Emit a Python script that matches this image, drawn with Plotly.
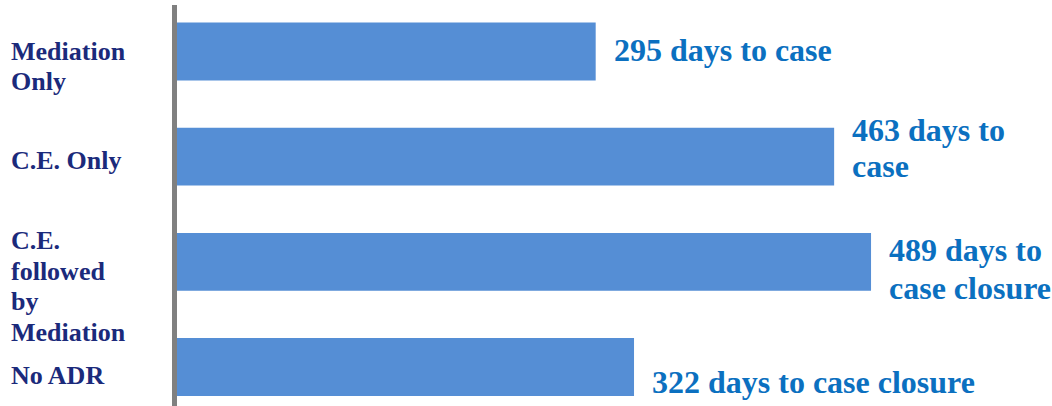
import plotly.graph_objects as go

# ---- data ----
categories = ["Mediation Only", "C.E. Only", "C.E. followed by Mediation", "No ADR"]
category_label_lines = [["Mediation", "Only"], ["C.E. Only"], ["C.E.", "followed", "by", "Mediation"], ["No ADR"]]
days_to_closure = [295, 463, 489, 322]
value_label_lines = [["295 days to case"], ["463 days to", "case"], ["489 days to", "case closure"], ["322 days to case closure"]]

# ---- style ----
BAR_COLOR = "#558ED5"
CAT_COLOR = "#1B2A7B"
VAL_COLOR = "#0B70C0"
FONT = "Times New Roman, Liberation Serif, serif"
# pixel offsets (below bar centre) of each text line, per category
cat_line_offsets = [[0.5, 30.5], [4], [-21.5, 9.5, 39.5, 70.5], [9]]
val_line_offsets = [[-1.5], [-27, 9], [-11.5, 26.5], [15]]

ypos = list(range(len(categories)))

fig = go.Figure(go.Bar(
    y=ypos, x=days_to_closure, orientation="h",
    marker=dict(color=BAR_COLOR, line=dict(width=0)),
    width=0.55, hoverinfo="skip",
))

annotations = []
for i, lines in enumerate(category_label_lines):
    for line, off in zip(lines, cat_line_offsets[i]):
        annotations.append(dict(
            x=0, xref="paper", y=ypos[i], yref="y", text="<b>" + line + "</b>",
            xanchor="left", yanchor="middle", xshift=-168, yshift=-off,
            showarrow=False, align="left",
            font=dict(family=FONT, size=26, color=CAT_COLOR),
        ))
for i, lines in enumerate(value_label_lines):
    for line, off in zip(lines, val_line_offsets[i]):
        annotations.append(dict(
            x=days_to_closure[i], xref="x", y=ypos[i], yref="y", text="<b>" + line + "</b>",
            xanchor="left", yanchor="middle", xshift=16, yshift=-off,
            showarrow=False, align="left",
            font=dict(family=FONT, size=32, color=VAL_COLOR),
        ))

fig.update_layout(
    width=1052, height=406,
    margin=dict(l=176.5, r=0, t=5, b=0, autoexpand=False),
    paper_bgcolor="white", plot_bgcolor="white",
    showlegend=False,
    xaxis=dict(range=[0, 616.5], showgrid=False, zeroline=False,
               showticklabels=False, showline=False, ticks=""),
    yaxis=dict(range=[3.371, -0.442], showgrid=False, zeroline=False,
               showticklabels=False, ticks="",
               showline=True, linecolor="#808080", linewidth=5),
    annotations=annotations,
)

fig.write_html("out.html", config={"displayModeBar": False},
               post_script="document.body.style.margin='0';document.body.style.overflow='hidden';")
